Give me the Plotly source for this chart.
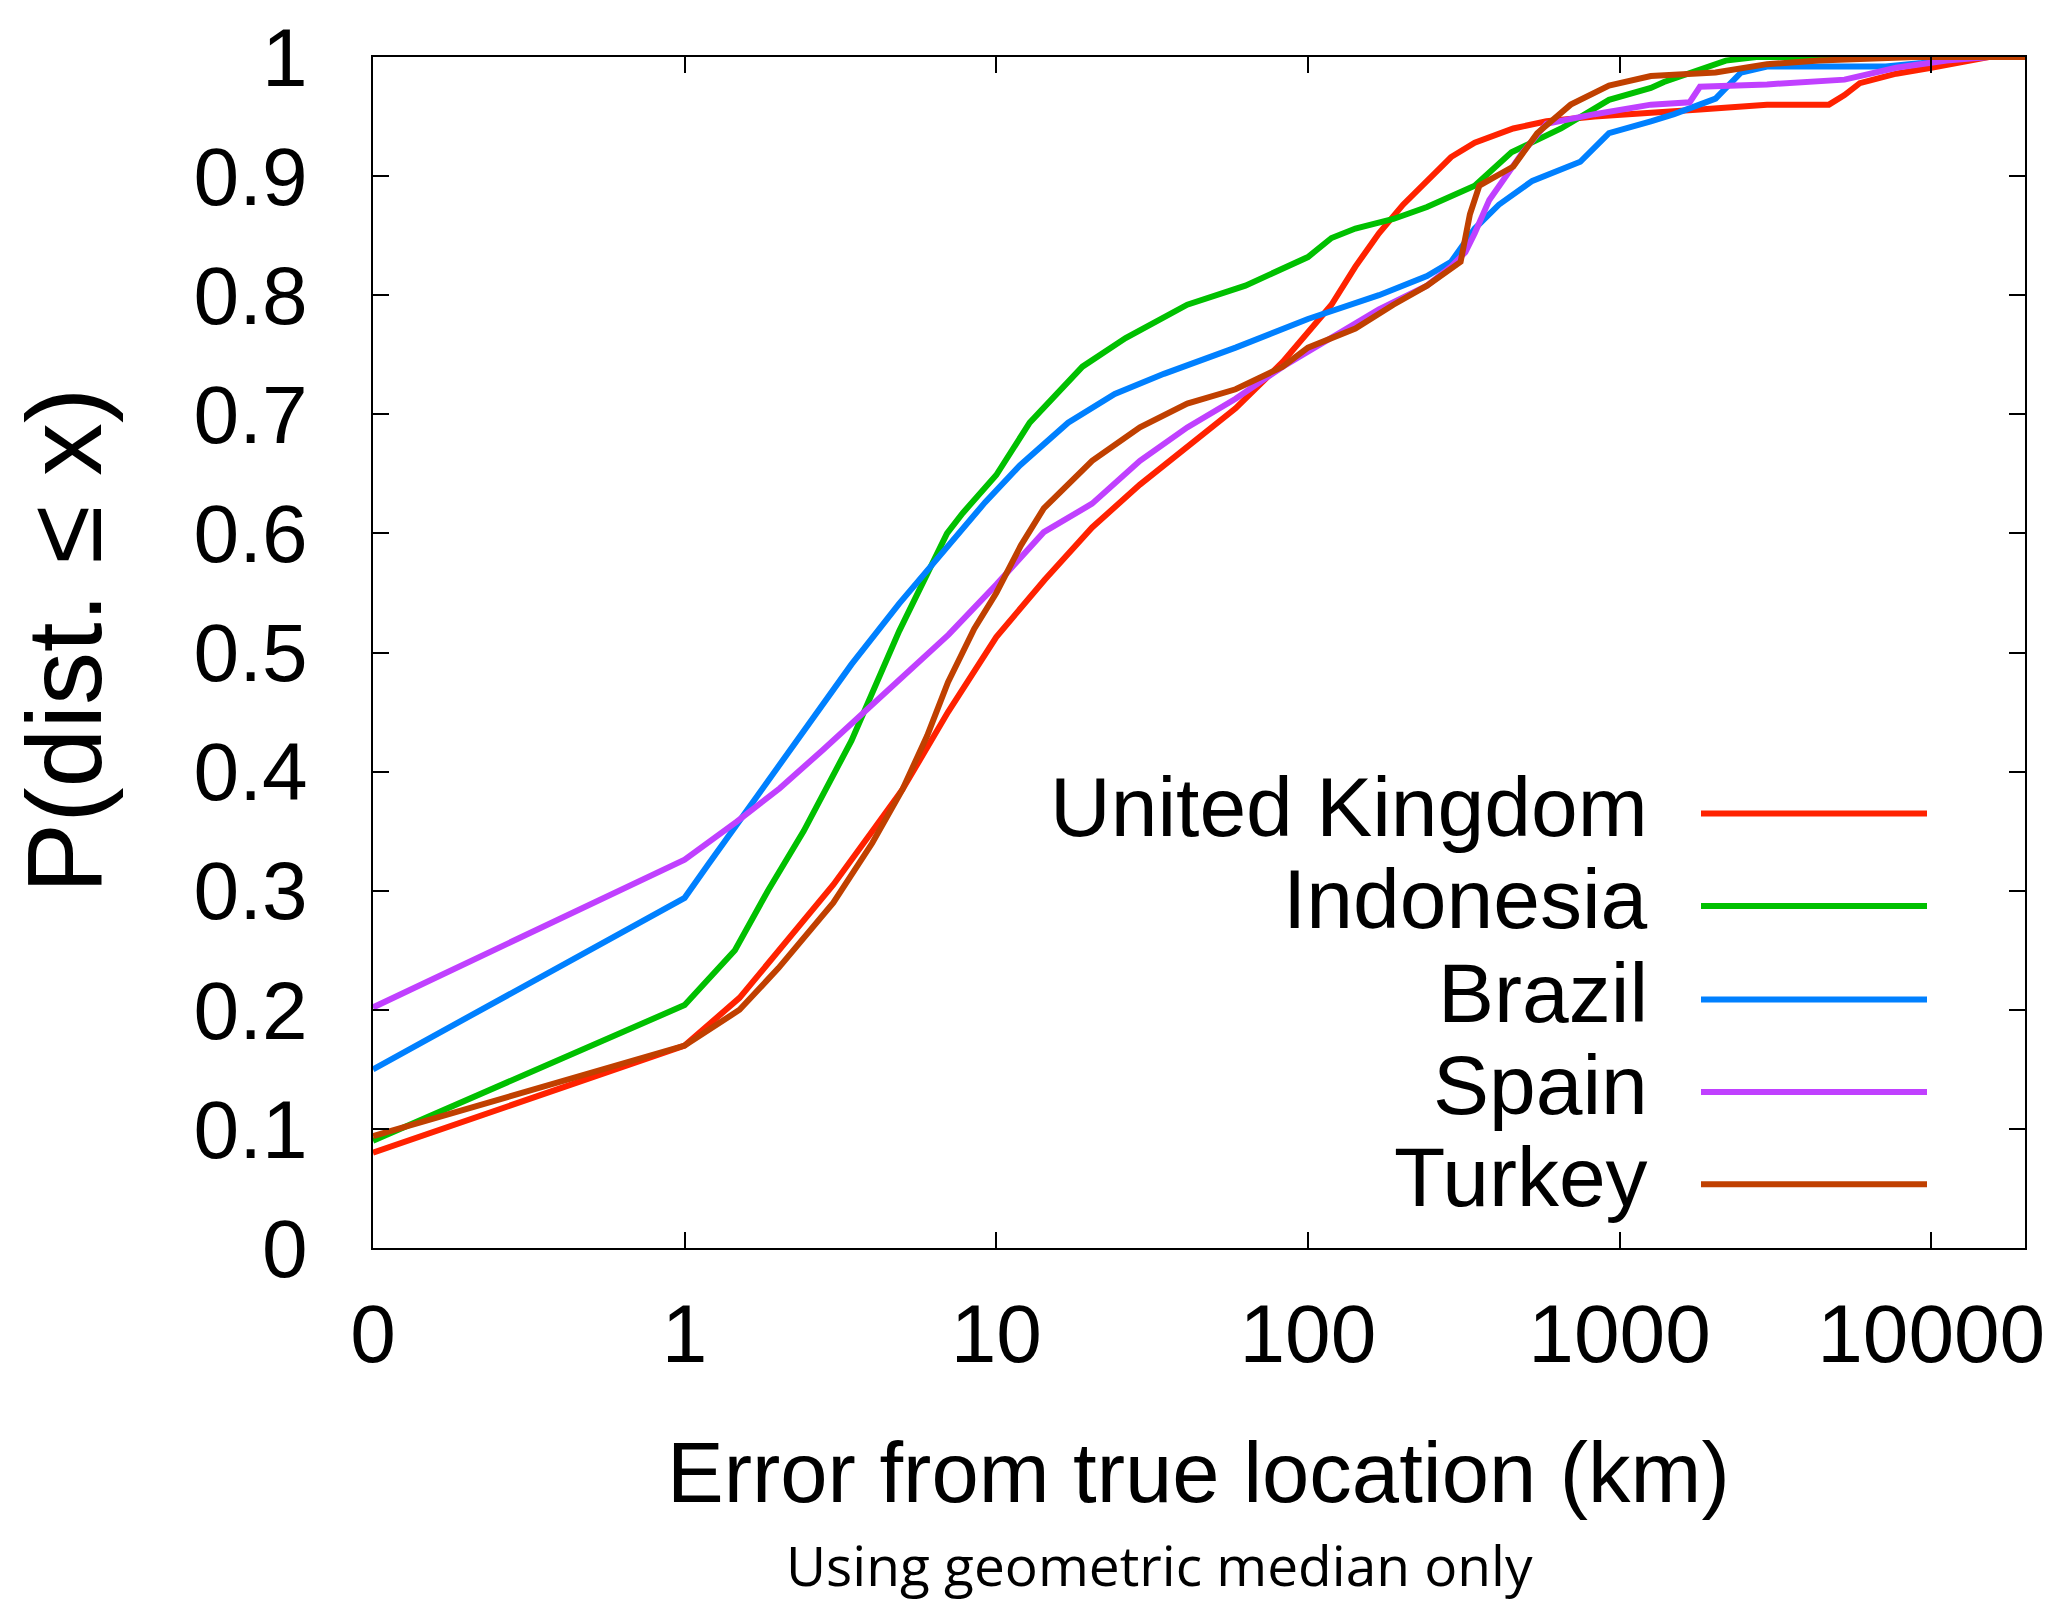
import plotly.graph_objects as go

# ---------------- data (distance in km, cumulative fraction) ----------------
# a distance of 0 km is drawn at the axis position labelled "0" (0.1 on the log scale)
ZERO_KM_POS = 0.1

countries = ["United Kingdom", "Indonesia", "Brazil", "Spain", "Turkey"]
colors = ["#ff2200", "#00c000", "#0080ff", "#c040ff", "#c04000"]

uk_x = [0, 1, 1.5, 2, 3, 4, 5, 7, 10, 14.3, 20.3, 28.9, 41, 58.6, 83, 119, 142, 169,
        202, 241, 288, 343, 456, 583, 832, 1811, 2972, 4697, 5270, 5900, 7720, 10000,
        13700, 15300, 20000]
uk_y = [0.08, 0.17, 0.21, 0.25, 0.305, 0.35, 0.385, 0.45, 0.513, 0.561, 0.605, 0.641,
        0.673, 0.705, 0.744, 0.792, 0.824, 0.852, 0.876, 0.896, 0.916, 0.928, 0.94,
        0.946, 0.95, 0.956, 0.96, 0.96, 0.968, 0.978, 0.986, 0.991, 0.997, 1.0, 1.0]

id_x = [0, 1, 1.45, 1.85, 2.41, 3.43, 4.88, 6.95, 7.8, 10, 12.8, 18.9, 26, 41, 63, 100,
        119, 142, 188, 241, 343, 450, 649, 925, 1260, 1388, 2193, 2750, 20000]
id_y = [0.09, 0.204, 0.25, 0.3, 0.35, 0.426, 0.518, 0.6, 0.617, 0.649, 0.693, 0.74,
        0.764, 0.792, 0.808, 0.832, 0.848, 0.856, 0.864, 0.874, 0.892, 0.92, 0.94, 0.964,
        0.974, 0.979, 0.997, 1.0, 1.0]

br_x = [0, 1, 1.19, 1.69, 2.41, 3.43, 4.88, 6.95, 9.2, 11.9, 17, 24, 34.5, 58.6, 100,
        169, 241, 288, 343, 410, 525, 748, 925, 1260, 1497, 2033, 2455, 2972, 7150,
        9330, 11200, 15000, 20000]
br_y = [0.15, 0.294, 0.322, 0.378, 0.434, 0.49, 0.541, 0.588, 0.626, 0.657, 0.693,
        0.717, 0.734, 0.756, 0.78, 0.8, 0.816, 0.828, 0.856, 0.876, 0.896, 0.912, 0.936,
        0.946, 0.952, 0.965, 0.987, 0.992, 0.992, 0.995, 0.998, 1.0, 1.0]

es_x = [0, 1, 1.47, 2.02, 2.77, 4.55, 7.03, 10, 14.2, 20.3, 28.9, 41, 58.6, 83, 119,
        169, 241, 288, 320, 343, 382, 489, 583, 832, 1260, 1679, 1811, 2972, 5270,
        7720, 11200, 15300, 20000]
es_y = [0.202, 0.326, 0.358, 0.386, 0.418, 0.47, 0.515, 0.557, 0.601, 0.625, 0.661,
        0.689, 0.713, 0.74, 0.764, 0.788, 0.808, 0.824, 0.836, 0.852, 0.88, 0.92, 0.944,
        0.952, 0.96, 0.962, 0.975, 0.977, 0.981, 0.991, 0.997, 1.0, 1.0]

tr_x = [0, 1, 1.5, 2, 3, 4, 5, 6, 7, 8.5, 10, 12, 14.2, 20.3, 28.9, 41, 58.6, 83, 100,
        142, 188, 241, 309, 320, 331, 355, 456, 544, 697, 925, 1260, 2033, 2972, 4360,
        8900, 20000]
tr_y = [0.094, 0.17, 0.2, 0.235, 0.29, 0.34, 0.385, 0.43, 0.475, 0.52, 0.55, 0.59,
        0.621, 0.661, 0.689, 0.709, 0.721, 0.74, 0.756, 0.772, 0.792, 0.808, 0.828, 0.85,
        0.868, 0.892, 0.908, 0.936, 0.96, 0.976, 0.984, 0.987, 0.994, 0.997, 1.0, 1.0]

series_x = [uk_x, id_x, br_x, es_x, tr_x]
series_y = [uk_y, id_y, br_y, es_y, tr_y]

x_tickvals = [0.1, 1, 10, 100, 1000, 10000]
x_ticktext = ["0", "1", "10", "100", "1000", "10000"]
y_tickvals = [0, 0.1, 0.2, 0.3, 0.4, 0.5, 0.6, 0.7, 0.8, 0.9, 1]
y_ticktext = ["0", "0.1", "0.2", "0.3", "0.4", "0.5", "0.6", "0.7", "0.8", "0.9", "1"]

x_title = "Error from true location (km)"
y_title = "P(dist. \u2264 x)"
subtitle = "Using geometric median only"

# ---------------- layout geometry ----------------
W, H = 2059, 1602
L, R, T, B = 373, 34, 50, 354
PW, PH = W - L - R, H - T - B
ARIAL = "Liberation Sans, Arial, Helvetica, sans-serif"


def px_to_paper_x(px):
    return (px - L) / PW


def px_to_paper_y(py):
    return (H - B - py) / PH


fig = go.Figure()
for name, col, xs, ys in zip(countries, colors, series_x, series_y):
    fig.add_trace(go.Scatter(
        x=[ZERO_KM_POS if v == 0 else v for v in xs], y=ys, mode="lines", name=name,
        line=dict(color=col, width=6), showlegend=False))

axis_common = dict(showline=True, linecolor="black", linewidth=2, mirror="allticks",
                   ticks="inside", ticklen=16, tickwidth=2, tickcolor="black",
                   showgrid=False, zeroline=False,
                   tickfont=dict(family=ARIAL, size=82, color="black"))

fig.update_xaxes(type="log", range=[-1, 4.301], tickmode="array",
                 tickvals=x_tickvals, ticktext=x_ticktext, ticklabelstandoff=14,
                 **axis_common)
fig.update_yaxes(range=[0, 1], tickmode="array", tickvals=y_tickvals,
                 ticktext=y_ticktext, ticklabelstandoff=47, **axis_common)

annotations = []
shapes = []
# manual legend: label on the left, line sample on the right
row_y = [811, 904, 998, 1091, 1184]
for name, col, ry in zip(countries, colors, row_y):
    annotations.append(dict(text=name, xref="paper", yref="paper",
                            x=px_to_paper_x(1650), y=px_to_paper_y(ry - 7),
                            xanchor="right", yanchor="middle", showarrow=False,
                            font=dict(family=ARIAL, size=84, color="black")))
    shapes.append(dict(type="line", xref="paper", yref="paper",
                       x0=px_to_paper_x(1701), x1=px_to_paper_x(1927),
                       y0=px_to_paper_y(ry), y1=px_to_paper_y(ry),
                       line=dict(color=col, width=6)))

annotations.append(dict(text=y_title, xref="paper", yref="paper",
                        x=px_to_paper_x(64), y=px_to_paper_y(637), textangle=-90,
                        xanchor="center", yanchor="middle", showarrow=False,
                        font=dict(family=ARIAL, size=106, color="black")))
annotations.append(dict(text=x_title, xref="paper", yref="paper",
                        x=px_to_paper_x(1198), y=px_to_paper_y(1474),
                        xanchor="center", yanchor="middle", showarrow=False,
                        font=dict(family=ARIAL, size=85, color="black")))
annotations.append(dict(text=subtitle, xref="paper", yref="paper",
                        x=px_to_paper_x(1159), y=px_to_paper_y(1566),
                        xanchor="center", yanchor="middle", showarrow=False,
                        font=dict(family="Open Sans, Noto Sans, sans-serif", size=55,
                                  color="black")))

fig.update_layout(width=W, height=H, margin=dict(l=L, r=R, t=T, b=B),
                  paper_bgcolor="white", plot_bgcolor="white",
                  annotations=annotations, shapes=shapes, showlegend=False)

fig.write_html("out.html")
